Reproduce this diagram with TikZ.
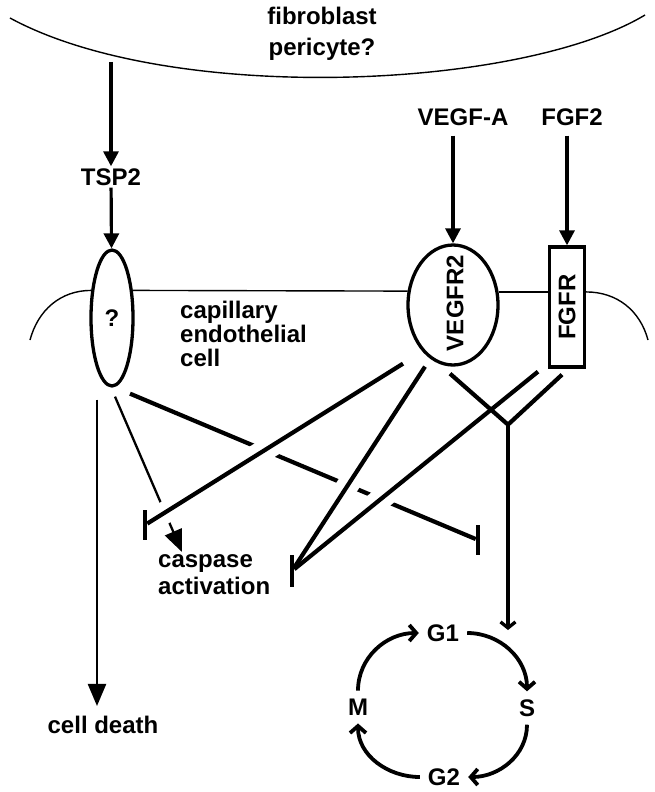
\documentclass[tikz,border=0pt]{standalone}
\usepackage{fontspec}
\setmainfont{Liberation Sans}
\usetikzlibrary{shapes.geometric,arrows.meta,positioning,calc}

\begin{document}
\begin{tikzpicture}[x=1pt, y=1pt,
    lbl/.style={font=\fontsize{24}{24}\selectfont\bfseries, inner sep=2pt},
    phase/.style={lbl, inner sep=8pt},
    rcpt/.style={draw, line width=3.3pt, inner sep=0pt, font=\fontsize{24}{24}\selectfont\bfseries},
    memb/.style={line width=1.4pt},
    act/.style={line width=3.2pt, -{Triangle[length=15pt,width=15pt]}},
    lead/.style={line width=2.3pt, -{Triangle[length=22pt,width=18pt]}},
    inh/.style={line width=4.2pt},
    gapcut/.style={white, line width=22pt},
    tbar/.style={fill, minimum width=4.2pt, minimum height=30pt, inner sep=0pt},
    cycarr/.style={line width=3.8pt, -{Straight Barb[length=7pt,width=16pt]}}
]
\useasboundingbox (0,0) rectangle (655,-792);

% Fibroblast side
\draw[memb] (10,-18) .. controls (170,-105) and (520,-90) .. (645,-15);
\node[lbl, align=center] (fib) at (322,-34) {fibroblast\\[7pt]pericyte?};

% Ligands
\coordinate (tspsrc) at (111,-62);
\node[lbl] (tsp2) at (111,-177) {TSP2};
\node[lbl] (vegfa) at (463,-117) {VEGF-A};
\node[lbl] (fgf2) at (572,-117) {FGF2};

% Receptors
\node[rcpt, ellipse, minimum width=42pt, minimum height=136pt] (qrec) at (112,-318) {?};
\node[rcpt, ellipse, minimum width=90pt, minimum height=120pt] (vegfr) at (453,-305) {};
\node[lbl, rotate=90] (vegfrtxt) at (455,-303) {VEGFR2};
\node[rcpt, rotate=90, minimum width=120pt, minimum height=35pt] (fgfr) at (567,-307) {FGFR};

% Endothelial membrane
\coordinate (mL) at (30,-340);
\coordinate (mR) at (648,-340);
\draw[memb] (mL) to[out=75,in=180] (qrec.127);
\draw[memb] (qrec.53) -- (vegfr.163.5);
\draw[memb] (vegfr.16.5) -- (vegfr.16.5 -| fgfr.north);
\draw[memb] (vegfr.16.5 -| fgfr.south) to[out=0,in=105] (mR);
\node[lbl, align=left, anchor=west] (cell) at (178,-334) {capillary\\endothelial\\cell};

% Ligand arrows
\draw[act] (tspsrc) -- (tsp2);
\draw[act] (tsp2) -- (qrec);
\draw[act, shorten <=8pt] (vegfa.south -| vegfr) -- (vegfr);
\draw[act, shorten <=8pt] (fgf2.south -| fgfr) -- (fgfr);

% Outcomes
\node[lbl] (death) at (103,-725) {cell death};
\node[lbl, align=left, anchor=north west] (casp) at (156,-552) {caspase\\[3pt]activation};
\node[tbar] (barL) at (145,-525) {};
\node[tbar, minimum height=32pt] (barC) at (292,-571) {};
\node[tbar] (barQ) at (478,-540) {};

% Cell cycle
\node[phase] (g1) at (443,-633) {G1};
\node[phase] (s) at (527,-708) {S};
\node[phase] (g2) at (444,-777) {G2};
\node[phase] (m) at (358,-707) {M};
\draw[cycarr] (g1) to[out=0,in=90] (s);
\draw[cycarr] (s) to[out=-90,in=0] (g2);
\draw[cycarr] (g2) to[out=180,in=-90] (m);
\draw[cycarr] (m) to[out=90,in=180] (g1);

% Signalling lines
\coordinate (qa) at ($(qrec.south)+(-15,-12)$);
\coordinate (qb) at ($(qrec.south)+(3,-9)$);
\coordinate (qc) at ($(qrec.south)+(18,-6)$);
\coordinate (va) at ($(vegfr.south)+(-50,3)$);
\coordinate (vb) at ($(vegfr.south)+(-28,0)$);
\coordinate (vc) at ($(vegfr.south)+(-3,-7)$);
\coordinate (fa) at ($(fgfr.west)+(-29,-3)$);
\coordinate (fb) at ($(fgfr.west)+(-5,-6)$);
\coordinate (jn) at ($(vegfr.south)+(55,-58)$);

\draw[lead, shorten >=8pt] (qa) -- (qa |- death.north);
\draw[lead] (qb) -- ($(casp.north west)+(26,0)$);
\draw[inh] (qc) -- (barQ);
% gaps where lines cross
\draw[gapcut] ($(va)!0.1!(barL)$) -- ($(va)!0.96!(barL)$);
\draw[gapcut] ($(vb)!0.2!(barC)$) -- ($(vb)!0.85!(barC)$);
\draw[gapcut] ($(fa)!0.25!(barC)$) -- ($(fa)!0.85!(barC)$);
\draw[inh] (va) -- (barL);
\draw[inh] (vb) -- (barC);
\draw[inh] (fa) -- (barC);
\draw[inh] (vc) -- (jn) -- (fb);
\draw[line width=3.3pt, -{Straight Barb[length=6pt,width=15pt]}, shorten >=3pt] (jn) -- (jn |- g1);
\end{tikzpicture}
\end{document}
